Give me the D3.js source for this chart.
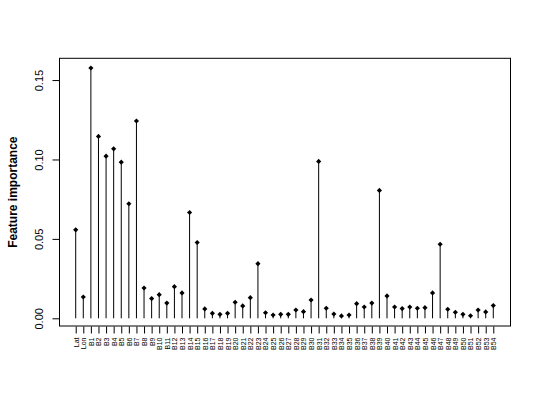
<!DOCTYPE html>
<html><head><meta charset="utf-8">
<script src="https://cdn.jsdelivr.net/npm/d3@7"></script>
<style>
html,body{margin:0;padding:0;background:#fff;}
svg{display:block;}
text{font-family:"Liberation Sans",Arial,Helvetica,sans-serif;}
</style></head>
<body>
<script>
const features = ["Lat","Lon","B1","B2","B3","B4","B5","B6","B7","B8","B9","B10","B11","B12","B13","B14","B15","B16","B17","B18","B19","B20","B21","B22","B23","B24","B25","B26","B27","B28","B29","B30","B31","B32","B33","B34","B35","B36","B37","B38","B39","B40","B41","B42","B43","B44","B45","B46","B47","B48","B49","B50","B51","B52","B53","B54"];
const importance = [0.0557,0.0134,0.1576,0.1145,0.1021,0.1067,0.0983,0.0721,0.1242,0.0191,0.0124,0.0149,0.0096,0.0199,0.0160,0.0666,0.0477,0.0059,0.0031,0.0025,0.0031,0.0101,0.0078,0.0130,0.0344,0.0035,0.0021,0.0025,0.0025,0.0052,0.0042,0.0115,0.0988,0.0063,0.0027,0.0015,0.0021,0.0092,0.0071,0.0096,0.0805,0.0141,0.0071,0.0061,0.0071,0.0063,0.0067,0.0160,0.0466,0.0057,0.0038,0.0025,0.0016,0.0052,0.0040,0.0080];
const yTicks = [0, 0.05, 0.10, 0.15];
const yLabel = "Feature importance";

const W = 540, H = 400;
const L = 59, R = 510, T = 58.3, B = 326;
const n = features.length;
const pad = 0.04 * (n - 1);

const svg = d3.select("body").append("svg").attr("width", W).attr("height", H);
svg.append("rect").attr("width", W).attr("height", H).attr("fill", "#fff");

const x = d3.scaleLinear().domain([1 - pad, n + pad]).range([L, R]);
const y = d3.scaleLinear().domain([-0.00485, 0.1637]).range([B, T]);

const data = features.map((f, i) => ({name: f, idx: i + 1, v: importance[i]}));

// stems
svg.append("g").selectAll("line").data(data).join("line")
  .attr("x1", d => x(d.idx)).attr("x2", d => x(d.idx))
  .attr("y1", y(0)).attr("y2", d => y(d.v))
  .attr("stroke", "#000").attr("stroke-width", 1);

// points (pch 18 style diamonds)
const sym = d3.symbol().type(d3.symbolDiamond2).size(17);
svg.append("g").selectAll("path").data(data).join("path")
  .attr("transform", d => `translate(${x(d.idx)},${y(d.v)})`)
  .attr("d", sym).attr("fill", "#000");

// box
svg.append("rect").attr("x", L + 0.5).attr("y", T).attr("width", R - L).attr("height", B - T)
  .attr("fill", "none").attr("stroke", "#000").attr("stroke-width", 1);

// x axis
const xAxis = d3.axisBottom(x).tickValues(data.map(d => d.idx))
  .tickFormat(i => features[i - 1]).tickSize(7).tickSizeOuter(0);
const gx = svg.append("g").attr("transform", `translate(0,${B + 0.5})`).call(xAxis);
gx.select(".domain").remove();
gx.selectAll(".tick line").attr("stroke", "#000");
gx.selectAll(".tick text")
  .attr("transform", "rotate(-90)")
  .attr("x", -11).attr("y", 0).attr("dy", "0.35em")
  .attr("text-anchor", "end")
  .attr("font-size", 7).attr("fill", "#000")
  .style("font-family", '"Liberation Sans",Arial,sans-serif');

// y axis
const yAxis = d3.axisLeft(y).tickValues(yTicks).tickFormat(d3.format(".2f")).tickSize(7).tickSizeOuter(0);
const gy = svg.append("g").attr("transform", `translate(${L + 0.5},0)`).call(yAxis);
gy.select(".domain").remove();
gy.selectAll(".tick line").attr("stroke", "#000");
gy.selectAll(".tick text")
  .attr("transform", "rotate(-90)")
  .attr("x", 0).attr("y", -17).attr("dy", 0)
  .attr("text-anchor", "middle")
  .attr("font-size", 11).attr("fill", "#000")
  .style("font-family", '"Liberation Sans",Arial,sans-serif');

// y label
svg.append("text")
  .attr("transform", `translate(16.5,${(T + B) / 2}) rotate(-90)`)
  .attr("text-anchor", "middle")
  .attr("font-size", 12).attr("font-weight", "bold").attr("fill", "#000")
  .text(yLabel);
</script>
</body></html>
